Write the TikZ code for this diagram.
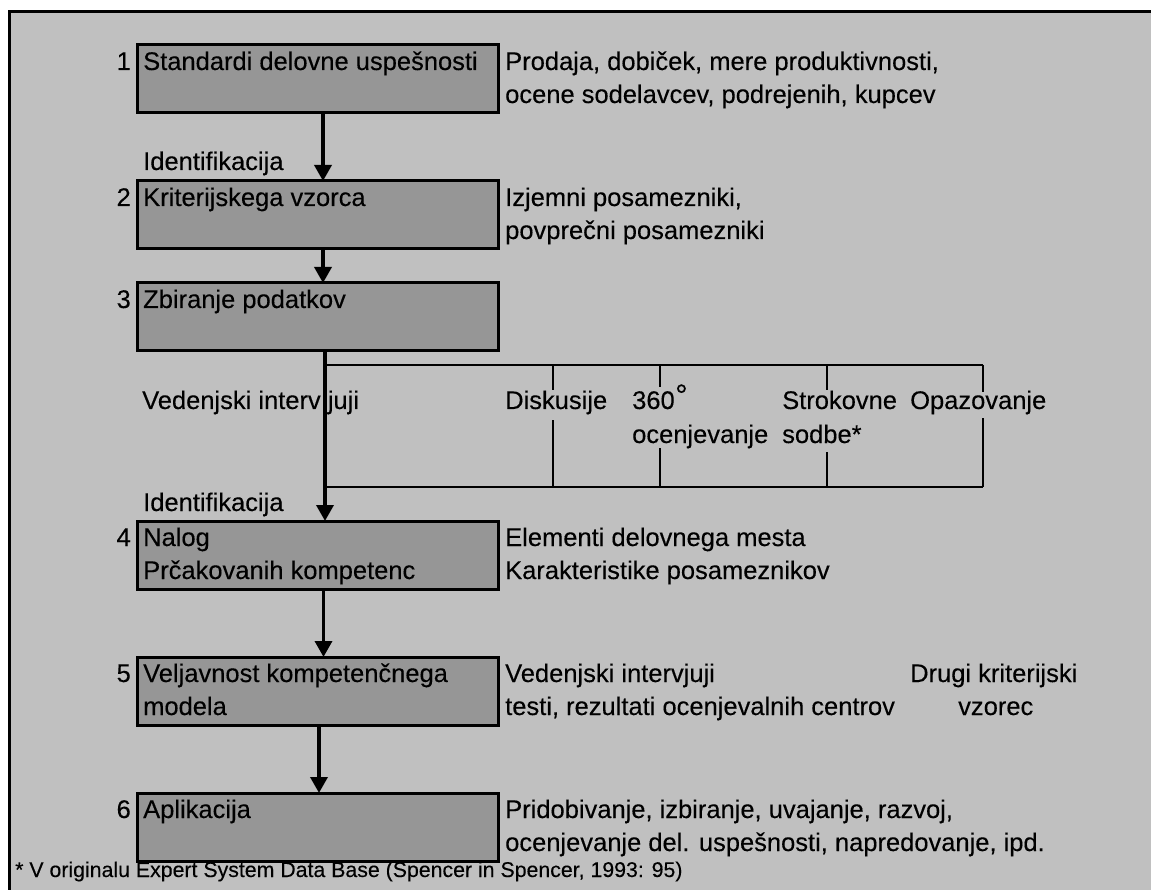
\documentclass[tikz,border=0pt]{standalone}
\usepackage{fontspec}
\setmainfont{Liberation Sans}[FakeBold=0.2]
\usetikzlibrary{arrows.meta}
\definecolor{panel}{RGB}{192,192,192}
\definecolor{boxfill}{RGB}{150,150,150}
\begin{document}
\begin{tikzpicture}[x=1pt,y=-1pt,
  stepbox/.style={draw=black, line width=3pt, fill=boxfill, minimum width=361pt,
    minimum height=68pt, inner sep=0pt, outer sep=0pt, anchor=north west},
  lbl/.style={anchor=base west, inner sep=0pt, font=\fontsize{25.5}{33}\selectfont},
  num/.style={anchor=base east, inner sep=0pt, font=\fontsize{25.5}{33}\selectfont},
  note/.style={anchor=base west, inner sep=0pt, font=\fontsize{21.3}{24}\selectfont},
  flow/.style={line width=3.5pt, -{Triangle[length=16pt,width=17pt]}},
  branch/.style={line width=1.3pt},
]
\useasboundingbox (0,0) rectangle (1151,890);
\clip (0,0) rectangle (1151,890);
\fill[white] (0,0) rectangle (1151,890);
% grey panel with its frame
\draw[line width=3.5pt, fill=panel] (9.5,11.5) rectangle (1170,910);

% step boxes
\node[stepbox] (b1) at (137,45) {};
\node[stepbox] (b2) at (137,181) {};
\node[stepbox] (b3) at (137,283) {};
\node[stepbox] (b4) at (137,521) {};
\node[stepbox] (b5) at (137,657) {};
\node[stepbox] (b6) at (137,793) {};

% step numbers
\node[num] (n1) at (131,70) {1};
\node[num] (n2) at (131,206) {2};
\node[num] (n3) at (131,308) {3};
\node[num] (n4) at (131,546) {4};
\node[num] (n5) at (131,682) {5};
\node[num] (n6) at (131,818) {6};

% box texts
\node[lbl] (t1) at (143,70) {Standardi delovne uspešnosti};
\node[lbl] (t2) at (143,206) {Kriterijskega vzorca};
\node[lbl] (t3) at (143,308) {Zbiranje podatkov};
\node[lbl] (t4a) at (143,546) {Nalog};
\node[lbl] (t4b) at (143,579) {Prčakovanih kompetenc};
\node[lbl] (t5a) at (143,682) {Veljavnost kompetenčnega};
\node[lbl] (t5b) at (143,715) {modela};
\node[lbl] (t6) at (143,818) {Aplikacija};

% texts beside the boxes
\node[lbl] (r1a) at (505,70) {Prodaja, dobiček, mere produktivnosti,};
\node[lbl] (r1b) at (505,103) {ocene sodelavcev, podrejenih, kupcev};
\node[lbl] (r2a) at (505,206) {Izjemni posamezniki,};
\node[lbl] (r2b) at (505,239) {povprečni posamezniki};
\node[lbl] (r4a) at (505,546) {Elementi delovnega mesta};
\node[lbl] (r4b) at (505,579) {Karakteristike posameznikov};
\node[lbl] (r5a) at (505,682) {Vedenjski intervjuji};
\node[lbl] (r5b) at (505,715) {testi, rezultati ocenjevalnih centrov};
\node[lbl] (r5c) at (910,682) {Drugi kriterijski};
\node[lbl] (r5d) at (958,715) {vzorec};
\node[lbl] (r6a) at (505,818) {Pridobivanje, izbiranje, uvajanje, razvoj,};
\node[lbl] (r6b) at (505,851) {ocenjevanje del. uspešnosti, napredovanje, ipd.};

% identification labels
\node[lbl] (id1) at (143,170) {Identifikacija};
\node[lbl] (id2) at (143,511) {Identifikacija};

% data collection methods
\node[lbl] (m1) at (142,409) {Vedenjski interv juji};
\node[lbl] (m2) at (505,409) {Diskusije};
\node[lbl] (m3a) at (632,409) {360\raisebox{3pt}{\fontsize{31}{31}\selectfont\kern0.5pt°}};
\node[lbl] (m3b) at (632,443) {ocenjevanje};
\node[lbl] (m4a) at (782,409) {Strokovne};
\node[lbl] (m4b) at (782,443) {sodbe*};
\node[lbl] (m5) at (910,409) {Opazovanje};

% flow arrows
\draw[flow] ([xshift=5.5pt]b1.south) -- ([xshift=5.5pt]b2.north);
\draw[flow] ([xshift=5.5pt]b2.south) -- ([xshift=5.5pt]b3.north);
\draw[flow] ([xshift=7.5pt]b3.south) -- ([xshift=7.5pt]b4.north);
\draw[flow] ([xshift=6pt]b4.south) -- ([xshift=6pt]b5.north);
\draw[flow] ([xshift=1.5pt]b5.south) -- ([xshift=1.5pt]b6.north);

% bracket of methods
\coordinate (bTL) at (325,365);
\coordinate (bTR) at (983,365);
\coordinate (bBL) at (325,487);
\coordinate (bBR) at (983,487);
\draw[branch] (bTL) -- (bTR);
\draw[branch] (bBL) -- (bBR);
\draw[branch] (553,365) -- (553,390) (553,420) -- (553,487);
\draw[branch] (660,365) -- (660,387) (660,448) -- (660,487);
\draw[branch] (827,365) -- (827,390) (827,452) -- (827,487);
\draw[branch] (bTR) -- (983,392) (983,418) -- (bBR);

% footnote
\node[note] (fn) at (15,877) {* V originalu Expert System Data Base (Spencer in Spencer, 1993: 95)};
\end{tikzpicture}
\end{document}
